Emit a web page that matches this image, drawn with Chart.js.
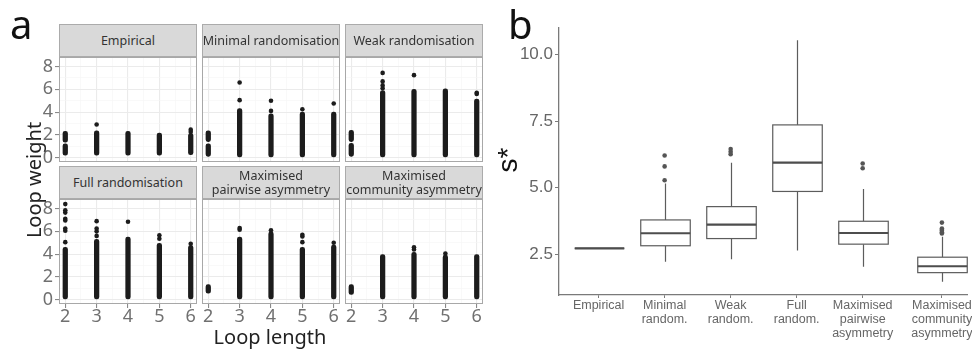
<!DOCTYPE html>
<html>
<head>
<meta charset="utf-8">
<script src="https://cdn.jsdelivr.net/npm/chart.js@4.4.1/dist/chart.umd.min.js"></script>
<style>
  html, body { margin: 0; padding: 0; background: #fff; }
  #fig { position: relative; width: 972px; height: 349px; overflow: hidden; font-family: 'Noto Sans', sans-serif; }
  canvas { position: absolute; }
  .strip { position: absolute; box-sizing: border-box; width: 138px; height: 33px; background: #d9d9d9; border: 1px solid #ababab;
           display: flex; align-items: center; justify-content: center; text-align: center; font-size: 12.5px; line-height: 14px; color: #333; white-space: nowrap; }
  .tag { position: absolute; font-size: 40px; line-height: 40px; color: #111; }
  .rot { position: absolute; transform: translate(-50%, -50%) rotate(-90deg); white-space: nowrap; }
  .title { position: absolute; transform: translate(-50%, -50%); white-space: nowrap; }
</style>
</head>
<body>
<div id="fig">
  <div class="tag" style="left:10px;top:4px">a</div>
  <div class="tag" style="left:508px;top:4px">b</div>
  <div class="rot" style="left:33px;top:180px;font-size:20px;color:#222">Loop weight</div>
  <div class="title" style="left:270px;top:336px;font-size:20px;color:#222">Loop length</div>
  <div class="rot" style="left:508px;top:160px;font-size:28px;color:#111;font-family:'Liberation Sans',sans-serif">s*</div>
</div>
<script>
Chart.defaults.font.family = "'Noto Sans', sans-serif";
Chart.defaults.animation = false;

// panel a: each run is [loop length, lowest weight, highest weight] of a dense column of points
const loopLengths = [2, 3, 4, 5, 6];
const empiricalRuns = [[2, 0.2, 1.2], [2, 1.35, 2.3], [3, 0.2, 2.35], [4, 0.2, 2.3], [5, 0.2, 2.15], [6, 0.25, 2.1]];
const empiricalPoints = [[3, 2.9], [6, 2.25], [6, 2.45]];
const minimalRuns = [[2, 0.1, 1.2], [2, 1.4, 2.35], [3, 0.05, 4.3], [4, 0.05, 3.85], [5, 0.05, 4.0], [6, 0.05, 4.0]];
const minimalPoints = [[3, 5.05], [3, 6.6], [4, 4.1], [4, 5.0], [5, 4.25], [6, 4.75]];
const weakRuns = [[2, 0.1, 1.25], [2, 1.4, 2.4], [3, 0.05, 5.9], [4, 0.05, 6.0], [5, 0.05, 6.05], [6, 0.05, 5.15]];
const weakPoints = [[3, 6.1], [3, 6.35], [3, 6.7], [3, 7.45], [4, 7.25], [6, 5.6], [6, 5.7]];
const fullRuns = [[2, 0, 4.6], [3, 0, 5.3], [4, 0, 5.5], [5, 0, 4.95], [6, 0, 4.75]];
const fullPoints = [[2, 5.05], [2, 6.05], [2, 6.25], [2, 6.95], [2, 7.1], [2, 7.65], [2, 7.85], [2, 8.4],
                    [3, 5.6], [3, 6.0], [3, 6.25], [3, 6.9], [4, 6.85], [5, 5.35], [5, 5.65], [6, 4.9]];
const pairwiseRuns = [[2, 0.55, 1.3], [3, 0, 5.5], [4, 0, 5.95], [5, 0, 4.6], [6, 0, 4.8]];
const pairwisePoints = [[3, 6.15], [3, 6.3], [4, 6.1], [5, 5.05], [5, 5.55], [5, 5.7], [6, 5.0]];
const communityRuns = [[2, 0.45, 1.3], [3, 0.05, 3.95], [4, 0.05, 4.15], [5, 0.05, 3.9], [6, 0.05, 3.95]];
const communityPoints = [[4, 4.4], [4, 4.6], [5, 4.05]];
const weightTicks = [0, 2, 4, 6, 8];

// panel b: s* per ensemble
const ensembleLabels = [['Empirical'], ['Minimal', 'random.'], ['Weak', 'random.'], ['Full', 'random.'],
                        ['Maximised', 'pairwise', 'asymmetry'], ['Maximised', 'community', 'asymmetry']];
const ensemblePos = [1, 2, 3, 4, 5, 6.2];
const whiskerLow = [2.72, 2.22, 2.31, 2.64, 2.03, 1.47];
const q1 = [2.72, 2.82, 3.09, 4.86, 2.88, 1.81];
const medians = [2.72, 3.29, 3.61, 5.94, 3.30, 2.05];
const q3 = [2.72, 3.79, 4.29, 7.36, 3.74, 2.39];
const whiskerHigh = [2.72, 5.16, 5.94, 10.54, 4.95, 3.16];
const outliers = [[], [5.28, 5.80, 6.21], [6.26, 6.35, 6.45], [], [5.73, 5.91], [3.28, 3.33, 3.38, 3.42, 3.47, 3.69]];
const sTicks = [2.5, 5.0, 7.5, 10.0];

const facets = [
    { name: 'Empirical', runs: empiricalRuns, points: empiricalPoints },
    { name: 'Minimal randomisation', runs: minimalRuns, points: minimalPoints },
    { name: 'Weak randomisation', runs: weakRuns, points: weakPoints },
    { name: 'Full randomisation', runs: fullRuns, points: fullPoints },
    { name: 'Maximised<br>pairwise asymmetry', runs: pairwiseRuns, points: pairwisePoints },
    { name: 'Maximised<br>community asymmetry', runs: communityRuns, points: communityPoints }
];

const PANEL_W = 138, PANEL_H = 105, STRIP_H = 33;
const colLeft = [59, 202, 345];
const rowTop = [57, 199];

const panelBorder = {
    id: 'panelBorder',
    afterDraw(chart) {
        const a = chart.chartArea, ctx = chart.ctx;
        ctx.save();
        ctx.strokeStyle = '#a8a8a8';
        ctx.lineWidth = 1;
        ctx.strokeRect(Math.round(a.left) + 0.5, Math.round(a.top) + 0.5, Math.round(a.right - a.left) - 1, Math.round(a.bottom - a.top) - 1);
        ctx.restore();
    }
};

const fig = document.getElementById('fig');

function isMajor(ctx, list) {
    return ctx.tick && list.includes(ctx.tick.value);
}

facets.forEach((f, i) => {
    const c = i % 3, r = Math.floor(i / 3);
    const yAxisW = c === 0 ? 36 : 0;
    const xAxisH = r === 1 ? 30 : 0;
    const pad = { left: 4, top: 10, right: 8, bottom: 4 };

    const strip = document.createElement('div');
    strip.className = 'strip';
    strip.style.left = colLeft[c] + 'px';
    strip.style.top = (rowTop[r] - STRIP_H) + 'px';
    strip.innerHTML = f.name;
    fig.appendChild(strip);

    const cv = document.createElement('canvas');
    cv.width = pad.left + yAxisW + PANEL_W + pad.right;
    cv.height = pad.top + PANEL_H + xAxisH + pad.bottom;
    cv.style.left = (colLeft[c] - yAxisW - pad.left) + 'px';
    cv.style.top = (rowTop[r] - pad.top) + 'px';
    fig.insertBefore(cv, fig.firstChild);

    new Chart(cv, {
        type: 'scatter',
        data: {
            datasets: [
                { type: 'bar', data: f.runs.map(d => ({ x: d[0], y: [d[1], d[2]] })), backgroundColor: '#1c1c1c',
                  barThickness: 4.6, borderRadius: 3, borderSkipped: false, grouped: false },
                { type: 'scatter', data: f.points.map(d => ({ x: d[0], y: d[1] })), backgroundColor: '#1c1c1c',
                  borderWidth: 0, pointRadius: 2.3 }
            ]
        },
        options: {
            responsive: false,
            events: [],
            layout: { padding: pad },
            plugins: { legend: { display: false }, tooltip: { enabled: false } },
            scales: {
                x: {
                    type: 'linear', min: 1.8, max: 6.2, offset: false,
                    afterFit: s => { s.height = xAxisH; s.paddingLeft = 0; s.paddingRight = 0; },
                    border: { display: false },
                    grid: {
                        offset: false,
                        color: ctx => isMajor(ctx, loopLengths) ? '#ebebeb' : '#f5f5f5',
                        lineWidth: ctx => isMajor(ctx, loopLengths) ? 1.1 : 0.6,
                        drawTicks: r === 1, tickLength: 4,
                        tickColor: ctx => isMajor(ctx, loopLengths) ? '#8a8a8a' : 'rgba(0,0,0,0)'
                    },
                    ticks: {
                        display: r === 1, stepSize: 0.5, includeBounds: false, autoSkip: false, maxRotation: 0,
                        padding: -2, color: '#707070', font: { size: 18 },
                        callback: v => loopLengths.includes(v) ? String(v) : ''
                    }
                },
                y: {
                    type: 'linear', min: -0.4, max: 8.85,
                    afterFit: s => { s.width = yAxisW; s.paddingTop = 0; s.paddingBottom = 0; },
                    border: { display: false },
                    grid: {
                        color: ctx => isMajor(ctx, weightTicks) ? '#ebebeb' : '#f5f5f5',
                        lineWidth: ctx => isMajor(ctx, weightTicks) ? 1.1 : 0.6,
                        drawTicks: c === 0, tickLength: 4,
                        tickColor: ctx => isMajor(ctx, weightTicks) ? '#8a8a8a' : 'rgba(0,0,0,0)'
                    },
                    ticks: {
                        display: c === 0, stepSize: 1, includeBounds: false, autoSkip: false,
                        padding: 2, color: '#707070', font: { size: 18 },
                        callback: v => weightTicks.includes(v) ? String(v) : ''
                    }
                }
            }
        },
        plugins: [panelBorder]
    });
});

// panel b boxes drawn through the chart's own scales
const boxWidth = 0.75;
const boxPlot = {
    id: 'boxPlot',
    beforeDatasetsDraw(chart) {
        const { ctx, scales: { x, y } } = chart;
        ctx.save();
        ensemblePos.forEach((p, i) => {
            const cx = Math.round(x.getPixelForValue(p)) + 0.5;
            const hw = x.getPixelForValue(p + boxWidth / 2) - x.getPixelForValue(p);
            const top = y.getPixelForValue(q3[i]), bot = y.getPixelForValue(q1[i]);
            ctx.strokeStyle = '#5c5c5c';
            ctx.lineWidth = 1.2;
            ctx.beginPath();
            ctx.moveTo(cx, y.getPixelForValue(whiskerHigh[i]));
            ctx.lineTo(cx, top);
            ctx.moveTo(cx, bot);
            ctx.lineTo(cx, y.getPixelForValue(whiskerLow[i]));
            ctx.stroke();
            ctx.fillStyle = '#fff';
            ctx.fillRect(cx - hw, top, 2 * hw, bot - top);
            ctx.strokeRect(cx - hw, top, 2 * hw, bot - top);
            const m = y.getPixelForValue(medians[i]);
            ctx.strokeStyle = '#4d4d4d';
            ctx.lineWidth = 2.2;
            ctx.beginPath();
            ctx.moveTo(cx - hw, m);
            ctx.lineTo(cx + hw, m);
            ctx.stroke();
        });
        ctx.restore();
    }
};

const cb = document.createElement('canvas');
cb.width = 472;
cb.height = 329;
cb.style.left = '500px';
cb.style.top = '20px';
fig.insertBefore(cb, fig.firstChild);

new Chart(cb, {
    type: 'scatter',
    data: {
        datasets: [{
            data: outliers.flatMap((list, i) => list.map(v => ({ x: ensemblePos[i], y: v }))),
            backgroundColor: '#555', borderWidth: 0, pointRadius: 2.3
        }]
    },
    options: {
        responsive: false,
        events: [],
        layout: { padding: { top: 8, right: 5, left: 0, bottom: 0 } },
        plugins: { legend: { display: false }, tooltip: { enabled: false } },
        scales: {
            x: {
                type: 'linear', min: 0.4, max: 6.58,
                afterBuildTicks: s => { s.ticks = ensemblePos.map(v => ({ value: v })); },
                afterFit: s => { s.height = 54; s.paddingLeft = 0; s.paddingRight = 0; },
                border: { display: true, color: '#7a7a7a', width: 1.3 },
                grid: { drawOnChartArea: false, drawTicks: true, tickLength: 3, tickColor: '#7a7a7a' },
                ticks: {
                    autoSkip: false, maxRotation: 0, padding: 1, color: '#666',
                    font: { family: "'Liberation Sans', sans-serif", size: 12.5, lineHeight: 1.12 },
                    callback: (v, i) => ensembleLabels[i]
                }
            },
            y: {
                type: 'linear', min: 0.97, max: 11.0,
                afterBuildTicks: s => { s.ticks = sTicks.map(v => ({ value: v })); },
                afterFit: s => { s.width = 59; s.paddingTop = 0; s.paddingBottom = 0; },
                border: { display: true, color: '#7a7a7a', width: 1.3 },
                grid: { drawOnChartArea: false, drawTicks: true, tickLength: 4, tickColor: '#7a7a7a' },
                ticks: {
                    padding: 2, color: '#666',
                    font: { family: "'Liberation Sans', sans-serif", size: 17 },
                    callback: v => v.toFixed(1)
                }
            }
        }
    },
    plugins: [boxPlot]
});
</script>
</body>
</html>
